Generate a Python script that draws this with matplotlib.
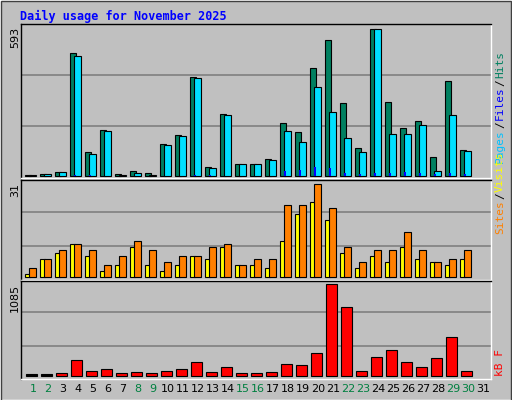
import matplotlib
matplotlib.use("Agg")
import matplotlib.pyplot as plt
from matplotlib.patches import Rectangle

days = list(range(1, 32))
hits  = [4,8,16,496,97,186,8,22,12,129,165,399,36,250,48,48,69,214,178,436,549,294,113,593,299,194,222,77,383,105,0]
files = [4,8,16,484,89,182,5,12,5,125,161,395,32,246,48,48,65,182,137,359,258,153,97,593,169,169,206,20,246,101,0]
pages = [1,3,3,5,5,3,1,3,1,3,3,5,5,3,3,3,3,22,26,38,32,12,10,12,14,18,14,10,12,10,0]
visits = [1,6,8,11,7,2,4,10,4,2,4,7,6,10,4,4,3,12,21,25,19,8,3,7,5,10,6,5,4,6,0]
sites  = [3,6,9,11,9,4,7,12,9,5,7,7,10,11,4,6,6,24,24,31,23,10,5,9,9,15,9,5,6,9,0]
kbytes = [16,16,28,181,51,75,28,39,28,51,75,158,39,99,28,28,39,134,122,264,1085,821,51,217,300,158,99,205,454,51,0]
weekend = {1,2,8,9,15,16,22,23,29,30}
title = "Daily usage for November 2025"

W, H = 512, 400
fig = plt.figure(figsize=(W/100, H/100), dpi=100)
fig.patch.set_facecolor("#C0C0C0")
BG = "#C0C0C0"
mono = "DejaVu Sans Mono"

fig.add_artist(Rectangle((0, 0), 1, 1, transform=fig.transFigure, fill=False, ec="white", lw=2))
fig.add_artist(Rectangle((1/W, 0), 1-2/W, 1-1/H, transform=fig.transFigure, fill=False, ec="#404040", lw=1))
fig.text(20/W, 1-16/H, title, color="#0000FF", fontsize=8.5, fontweight="bold", family=mono, va="center")

def mkax(top, bot):
    ax = fig.add_axes([21/W, 1-bot/H, 470/W, (bot-top)/H])
    ax.set_facecolor(BG)
    ax.set_xlim(0.5, 0.5 + 470/15)
    ax.set_xticks([]); ax.set_yticks([])
    for s in ax.spines.values():
        s.set_color("black"); s.set_linewidth(1)
    ax.spines["right"].set_color("white"); ax.spines["bottom"].set_color("white")
    return ax

def grid(ax, lo, hi, fracs):
    for f in fracs:
        ax.axhline(lo + (hi-lo)*f, color="#808080", lw=1.2, zorder=0)

ax1 = mkax(24, 178)
top1 = 593*(469-12)/441
lo1 = -593*5/441
ax1.set_ylim(lo1, top1)
grid(ax1, lo1, top1, [0.34, 0.67])
for i, d in enumerate(days):
    if hits[i]:
        ax1.bar(d-0.23, hits[i], width=0.42, align="edge", color="#008060", ec="black", lw=0.8, zorder=2)
    if files[i]:
        ax1.bar(d+0.03, files[i], width=0.47, align="edge", color="#00E0FF", ec="black", lw=0.8, zorder=3)
    if pages[i]:
        ax1.bar(d+0.05, pages[i], width=0.1, align="edge", color="#0000FF", lw=0, zorder=4)

ax2 = mkax(180, 280)
top2 = 31*290/278
lo2 = -31*9/278
ax2.set_ylim(lo2, top2)
grid(ax2, lo2, top2, [0.34, 0.68])
for i, d in enumerate(days):
    if visits[i]:
        ax2.bar(d-0.23, visits[i], width=0.32, align="edge", color="#FFFF00", ec="black", lw=0.8, zorder=2)
    if sites[i]:
        ax2.bar(d+0.05, sites[i], width=0.47, align="edge", color="#FF8000", ec="black", lw=0.8, zorder=3)

ax3 = mkax(281, 379)
top3 = 1085*(593-308)/275
lo3 = -1085*10/275
ax3.set_ylim(lo3, top3)
grid(ax3, lo3, top3, [0.34, 0.68])
for i, d in enumerate(days):
    if kbytes[i]:
        c = "black" if kbytes[i] < 20 else "#FF0000"
        ax3.bar(d-0.17, kbytes[i], width=0.73, align="edge", color=c, ec="black", lw=0.8, zorder=2)

for d in days:
    x = (21 + (d-1)*15 + 12)/W
    fig.text(x, 1-389/H, str(d), ha="center", va="center", fontsize=8, family="DejaVu Sans",
             color="#008040" if d in weekend else "black")

for y, s in [(27, "593"), (183, "31"), (284, "1085")]:
    fig.text(15/W, 1-y/H, s, rotation=90, ha="center", va="top", fontsize=8, family="DejaVu Sans")

renderer = fig.canvas.get_renderer()
def vlabel(y_bottom, parts):
    y = y_bottom
    for s, c in parts:
        t = fig.text(500/W, 1-y/H, s, rotation=90, ha="center", va="bottom", color=c, fontsize=8, family=mono)
        bb = t.get_window_extent(renderer)
        y -= bb.height + 1

vlabel(163, [("Pages", "#00C0FF"), ("/", "black"), ("Files", "#0000FF"), ("/", "black"), ("Hits", "#008060")])
vlabel(234, [("Sites", "#FF8000"), ("/", "black"), ("Visits", "#FFFF00")])
vlabel(376, [("kB F", "#FF0000")])

fig.savefig("out.png", dpi=100, facecolor=fig.get_facecolor())
